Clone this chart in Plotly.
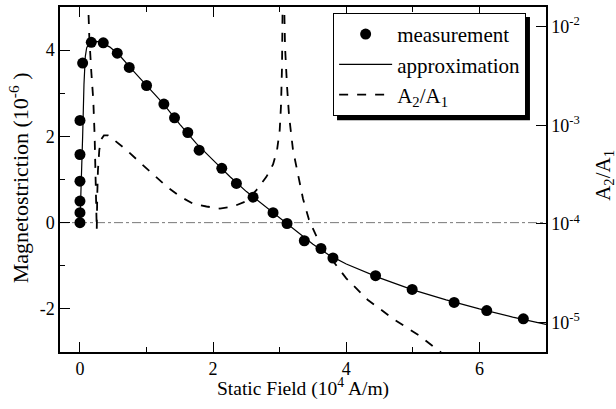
import plotly.graph_objects as go

# Measurement points (static field 10^4 A/m, magnetostriction 10^-6)
meas_x = [0, 0, 0, 0, 0, 0, 0.04, 0.17, 0.35, 0.56, 0.74, 1.0, 1.26, 1.42, 1.62, 1.79,
          2.13, 2.35, 2.60, 2.90, 3.11, 3.37, 3.62, 3.80, 4.44, 4.99, 5.62, 6.11, 6.66]
meas_y = [0, 0.23, 0.5, 0.96, 1.58, 2.37, 3.70, 4.18, 4.17, 3.93, 3.60, 3.18, 2.75, 2.43, 2.09, 1.68,
          1.26, 0.91, 0.59, 0.23, -0.02, -0.42, -0.60, -0.82, -1.23, -1.55, -1.85, -2.04, -2.23]

# Approximation curve
approx_x = [0, 0.02, 0.04, 0.06, 0.08, 0.1, 0.14, 0.2, 0.3, 0.45, 0.6, 0.8, 1.0, 1.25, 1.5, 1.75,
            2.0, 2.25, 2.5, 2.75, 3.0, 3.25, 3.5, 3.75, 4.0, 4.5, 5.0, 5.5, 6.0, 6.5, 7.0]
approx_y = [0, 0.8, 2.0, 3.2, 3.85, 4.05, 4.17, 4.21, 4.19, 4.07, 3.87, 3.52, 3.18, 2.76, 2.28, 1.83,
            1.45, 1.07, 0.72, 0.41, 0.11, -0.2, -0.5, -0.76, -0.96, -1.28, -1.56, -1.79, -2.0, -2.19, -2.36]

# A2/A1 ratio (right log axis)
ratio_x = [0.12, 0.14, 0.17, 0.2, 0.22, 0.235, 0.245, 0.252, 0.26, 0.27, 0.29, 0.32, 0.36, 0.42, 0.5,
           0.7, 0.9, 1.1, 1.3, 1.5, 1.7, 1.9, 2.1, 2.3, 2.5, 2.65, 2.8, 2.9, 2.96, 3.0, 3.02, 3.035, 3.045,
           None,
           3.065, 3.08, 3.11, 3.14, 3.2, 3.27, 3.35, 3.44, 3.62, 3.8, 4.0, 4.32, 4.72, 5.09, 5.43, 5.6]
ratio_y = [2.0e-2, 7.9e-3, 3.5e-3, 1.8e-3, 7.9e-4, 3.2e-4, 1.6e-4, 8.7e-5, 2.0e-4, 3.5e-4, 5.6e-4, 7.2e-4,
           7.9e-4, 7.9e-4, 7.2e-4, 5.6e-4, 4.2e-4, 3.2e-4, 2.4e-4, 1.9e-4, 1.6e-4, 1.5e-4, 1.43e-4, 1.5e-4,
           1.7e-4, 2.2e-4, 3.0e-4, 4.0e-4, 5.6e-4, 8.9e-4, 1.6e-3, 4.0e-3, 2.0e-2,
           None,
           2.0e-2, 6.3e-3, 2.5e-3, 1.26e-3, 5.6e-4, 3.2e-4, 1.8e-4, 1.1e-4, 5.9e-5, 4.2e-5, 2.8e-5, 1.7e-5,
           1.07e-5, 7.4e-6, 5.0e-6, 4.0e-6]

# Zero reference line
zero_x = [-0.3, 7.0]
zero_y = [0, 0]

x_ticks = [0, 2, 4, 6]
x_ticktext = ["0", "2", "4", "6"]
y_ticks = [-2, 0, 2, 4]
y_ticktext = ["-2", "0", "2", "4"]
r_ticks = [1e-5, 1e-4, 1e-3, 1e-2]
r_ticktext = ["10<sup>-5</sup>", "10<sup>-4</sup>", "10<sup>-3</sup>", "10<sup>-2</sup>"]

FONT = "Times New Roman"

fig = go.Figure()
fig.add_trace(go.Scatter(x=zero_x, y=zero_y, mode="lines", showlegend=False,
                         line=dict(color="#555555", width=0.8, dash="dashdot")))
fig.add_trace(go.Scatter(x=meas_x, y=meas_y, mode="markers", name="measurement",
                         marker=dict(color="black", size=11)))
fig.add_trace(go.Scatter(x=approx_x, y=approx_y, mode="lines", name="approximation",
                         line=dict(color="black", width=1.2)))
fig.add_trace(go.Scatter(x=ratio_x, y=ratio_y, mode="lines", name="A<sub>2</sub>/A<sub>1</sub>",
                         yaxis="y2", connectgaps=False,
                         line=dict(color="black", width=1.8, dash="dash")))

axis_common = dict(showline=True, linecolor="black", linewidth=1.5, ticks="inside",
                   tickcolor="black", tickwidth=1.2, showgrid=False, zeroline=False,
                   automargin=False,
                   tickfont=dict(family=FONT, size=18, color="black"))

# legend drop shadow (paper coordinates)
shadow = dict(type="rect", xref="paper", yref="paper", x0=0.570, x1=0.967, y0=0.672, y1=0.971,
              fillcolor="black", line=dict(width=0), layer="above")

fig.update_layout(
    width=616, height=409,
    margin=dict(l=60, r=70, t=7, b=57, autoexpand=False),
    plot_bgcolor="white", paper_bgcolor="white",
    font=dict(family=FONT, size=18, color="black"),
    xaxis=dict(range=[-0.3, 7.0], tickvals=x_ticks, ticktext=x_ticktext, ticklen=10,
               mirror="ticks", minor=dict(dtick=1, tick0=0, ticklen=5, ticks="inside", tickcolor="black"),
               **axis_common),
    yaxis=dict(range=[-3, 5], tickvals=y_ticks, ticktext=y_ticktext, ticklen=10,
               minor=dict(dtick=1, tick0=1, ticklen=5, ticks="inside", tickcolor="black"),
               **axis_common),
    yaxis2=dict(type="log", range=[-5.3, -1.8], overlaying="y", side="right",
                tickvals=r_ticks, ticktext=r_ticktext, ticklen=10,
                **axis_common),
    legend=dict(x=0.562, y=0.983, xanchor="left", yanchor="top", bgcolor="white",
                bordercolor="black", borderwidth=1, itemwidth=53,
                font=dict(family=FONT, size=21), tracegroupgap=0),
    shapes=[shadow],
    annotations=[
        dict(text="Static Field (10<sup>4</sup> A/m)", xref="paper", yref="paper", x=0.5, y=-0.104,
             showarrow=False, xanchor="center", yanchor="middle", font=dict(family=FONT, size=19.5)),
        dict(text="Magnetostriction (10<sup>-6</sup> )", xref="paper", yref="paper", x=-0.084, y=0.504,
             showarrow=False, textangle=-90, xanchor="center", yanchor="middle", font=dict(family=FONT, size=22)),
        dict(text="A<sub>2</sub>/A<sub>1</sub>", xref="paper", yref="paper", x=1.119, y=0.513,
             showarrow=False, textangle=-90, xanchor="center", yanchor="middle", font=dict(family=FONT, size=21)),
    ],
)

fig.write_html("out.html", config={"displayModeBar": False},
               post_script="document.body.style.margin='0px';")
